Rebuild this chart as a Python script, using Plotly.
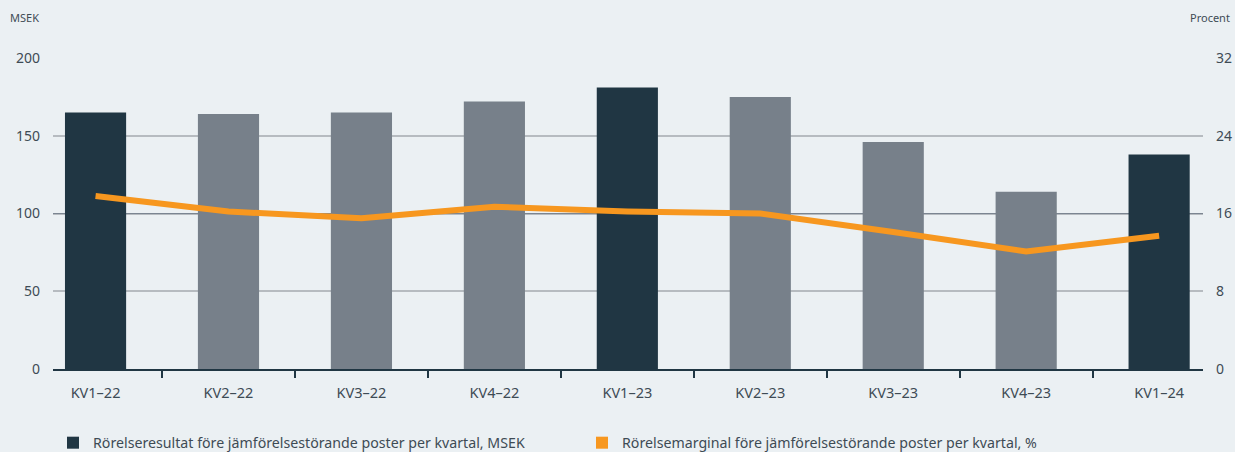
import plotly.graph_objects as go

categories = ["KV1–22", "KV2–22", "KV3–22", "KV4–22", "KV1–23", "KV2–23", "KV3–23", "KV4–23", "KV1–24"]
resultat_msek = [165, 164, 165, 172, 181, 175, 146, 114, 138]
marginal_pct = [17.8, 16.2, 15.5, 16.7, 16.2, 16.0, 14.1, 12.1, 13.7]
left_ticks = [0, 50, 100, 150, 200]
right_ticks = [0, 8, 16, 24, 32]

name_bar = "Rörelseresultat före jämförelsestörande poster per kvartal, MSEK"
name_line = "Rörelsemarginal före jämförelsestörande poster per kvartal, %"

DARK = "#203643"
GREY = "#77808A"
ORANGE = "#F7971F"
BG = "#EBF0F3"
TXT = "#3E4B55"
FONT = "Noto Sans"

bar_colors = [DARK if c.startswith("KV1") else GREY for c in categories]

fig = go.Figure()
fig.add_trace(go.Bar(x=categories, y=resultat_msek, name=name_bar,
                     marker=dict(color=bar_colors, line=dict(width=0)),
                     width=0.46, yaxis="y", showlegend=True))
fig.add_trace(go.Scatter(x=categories, y=marginal_pct, name=name_line, mode="lines",
                         line=dict(color=ORANGE, width=6), yaxis="y2", showlegend=False))
# legend entry as square for the line series
fig.add_trace(go.Scatter(x=[None], y=[None], name=name_line, mode="markers",
                         marker=dict(symbol="square", size=15, color=ORANGE), yaxis="y2",
                         showlegend=True))

fig.update_layout(
    width=1235, height=452,
    margin=dict(l=53, r=32, t=58, b=83, autoexpand=False),
    paper_bgcolor=BG, plot_bgcolor=BG,
    font=dict(family=FONT, size=14, color=TXT),
    barmode="overlay",
    showlegend=True,
    legend=dict(orientation="h", x=0, xanchor="left", y=0.02, yref="container",
                yanchor="middle",
                entrywidth=484, entrywidthmode="pixels",
                font=dict(size=14.2, color=TXT), bgcolor="rgba(0,0,0,0)",
                itemsizing="constant"),
    xaxis=dict(type="category", range=[-0.32, 8.33], showgrid=False,
               showline=True, linecolor=DARK, linewidth=2,
               ticks="outside", tickson="boundaries", ticklen=7, tickcolor=DARK, tickwidth=1.5,
               tickfont=dict(size=14.5, color=TXT), zeroline=False, ticklabelstandoff=10),
    yaxis=dict(range=[0, 200], tickvals=left_ticks, showgrid=True, gridcolor="#B6BBC0",
               gridwidth=2, zeroline=False, showline=False, ticks="",
               tickfont=dict(size=14, color=TXT), ticklabelstandoff=12),
    yaxis2=dict(range=[0, 32], tickvals=right_ticks, overlaying="y", side="right",
                showgrid=False, zeroline=False, showline=False, ticks="",
                tickfont=dict(size=14, color=TXT), ticklabelstandoff=12),
    yaxis3=dict(range=[0, 200], tickvals=[100, 200], overlaying="y", side="left",
                showgrid=True, gridcolor="#7B8591", gridwidth=1.3, zeroline=False,
                showticklabels=False, ticks="", showline=False),
)
# dummy trace to activate yaxis3 grid
fig.add_trace(go.Scatter(x=[categories[0]], y=[None], yaxis="y3", showlegend=False,
                         mode="lines", hoverinfo="skip"))

fig.add_annotation(text="MSEK", xref="paper", yref="paper", x=0, xanchor="left",
                   xshift=-45, y=1, yanchor="bottom", yshift=31, showarrow=False,
                   font=dict(size=11, color=TXT))
fig.add_annotation(text="Procent", xref="paper", yref="paper", x=1, xanchor="right",
                   xshift=29, y=1, yanchor="bottom", yshift=31, showarrow=False,
                   font=dict(size=11, color=TXT))

fig.write_html("out.html", config={"displayModeBar": False},
               post_script="document.body.style.margin='0';document.body.style.overflow='hidden';")
